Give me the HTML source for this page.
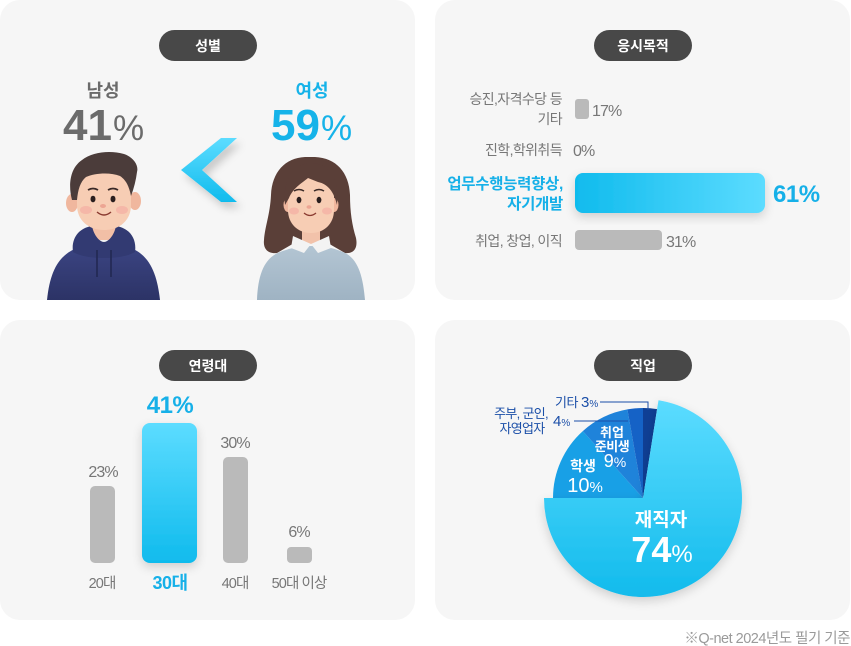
<!DOCTYPE html>
<html><head><meta charset="utf-8">
<style>
html,body{margin:0;padding:0;background:#fff;}
svg{display:block;}
text{font-family:"Liberation Sans","Noto Sans CJK KR",sans-serif;}
</style></head><body>
<svg width="851" height="646" viewBox="0 0 851 646" xmlns="http://www.w3.org/2000/svg">
<defs>
 <linearGradient id="gv" x1="0" y1="0" x2="0" y2="1"><stop offset="0" stop-color="#5cdcff"/><stop offset="1" stop-color="#10bbed"/></linearGradient>
 <linearGradient id="gh" x1="0" y1="0" x2="1" y2="0"><stop offset="0" stop-color="#10bbed"/><stop offset="1" stop-color="#5cdcff"/></linearGradient>
 <linearGradient id="gpie" gradientUnits="userSpaceOnUse" x1="0" y1="399" x2="0" y2="597"><stop offset="0" stop-color="#5cdcff"/><stop offset="1" stop-color="#12bbec"/></linearGradient>
 <linearGradient id="gch" gradientUnits="userSpaceOnUse" x1="0" y1="138" x2="0" y2="202"><stop offset="0" stop-color="#5cdcff"/><stop offset="1" stop-color="#10bbed"/></linearGradient>
 <linearGradient id="ghood" x1="0" y1="0" x2="0" y2="1"><stop offset="0" stop-color="#3b4482"/><stop offset="1" stop-color="#2c3366"/></linearGradient>
 <linearGradient id="gsw" x1="0" y1="0" x2="0" y2="1"><stop offset="0" stop-color="#b3c5d3"/><stop offset="1" stop-color="#9fb3c3"/></linearGradient>
 <filter id="sh" x="-30%" y="-30%" width="160%" height="160%"><feDropShadow dx="0" dy="4" stdDeviation="5" flood-color="#000" flood-opacity="0.16"/></filter>
 <filter id="shc" x="-40%" y="-40%" width="180%" height="180%"><feDropShadow dx="4" dy="6" stdDeviation="4" flood-color="#000" flood-opacity="0.18"/></filter>
</defs>

<!-- panels -->
<rect x="0" y="0" width="415" height="300" rx="20" fill="#f6f6f6"/>
<rect x="435" y="0" width="415" height="300" rx="20" fill="#f6f6f6"/>
<rect x="0" y="320" width="415" height="300" rx="20" fill="#f6f6f6"/>
<rect x="435" y="320" width="415" height="300" rx="20" fill="#f6f6f6"/>

<!-- pills -->
<rect x="159" y="30" width="98" height="31" rx="15.5" fill="#484848"/>
<text x="208" y="51" font-size="14" font-weight="bold" fill="#fff" text-anchor="middle">성별</text>
<rect x="594" y="30" width="98" height="31" rx="15.5" fill="#484848"/>
<text x="643" y="51" font-size="14" font-weight="bold" fill="#fff" text-anchor="middle">응시목적</text>
<rect x="159" y="350" width="98" height="31" rx="15.5" fill="#484848"/>
<text x="208" y="371" font-size="14" font-weight="bold" fill="#fff" text-anchor="middle">연령대</text>
<rect x="594" y="350" width="98" height="31" rx="15.5" fill="#484848"/>
<text x="643" y="371" font-size="14" font-weight="bold" fill="#fff" text-anchor="middle">직업</text>

<!-- ===== gender ===== -->
<text x="103" y="97" font-size="18" font-weight="bold" fill="#6b6b6b" text-anchor="middle">남성</text>
<text x="63" y="140" fill="#6b6b6b"><tspan font-size="44" font-weight="bold">41</tspan><tspan font-size="35" dx="1">%</tspan></text>
<text x="312" y="97" font-size="18" font-weight="bold" fill="#16b3e9" text-anchor="middle">여성</text>
<text x="271" y="140" fill="#16b3e9"><tspan font-size="44" font-weight="bold">59</tspan><tspan font-size="35" dx="1">%</tspan></text>

<!-- chevron -->
<polygon points="221,138 237,138 202,170 237,202 221,202 181,170" fill="url(#gch)" filter="url(#shc)"/>

<!-- man -->
<g>
 <path d="M47,300 C50,272 58,254 80,247 L128,247 C150,254 157,274 160,300 Z" fill="url(#ghood)"/>
 <path d="M92,222 L116,222 L116,244 L92,244 Z" fill="#f2bfa6"/>
 <path d="M95,240 L113,240 L108,248 L100,248 Z" fill="#f2f2f2"/>
 <path d="M73,252 C71,238 79,228 92,226 C94,236 100,242 104,242 C108,242 114,236 116,226 C129,228 137,238 135,252 C128,256 118,258 104,258 C90,258 80,256 73,252 Z" fill="#323a72"/>
 <line x1="97" y1="250" x2="97" y2="277" stroke="#222852" stroke-width="1.6"/>
 <line x1="111" y1="250" x2="111" y2="277" stroke="#222852" stroke-width="1.6"/>
 <ellipse cx="72" cy="203" rx="6" ry="9" fill="#f0b79e"/>
 <ellipse cx="135" cy="201" rx="6" ry="9" fill="#f0b79e"/>
 <path d="M77,185 C77,172 88,166 104,166 C120,166 131,172 131,185 L131,205 C131,220 120,230 104,230 C88,230 77,220 77,205 Z" fill="#f7cdb4"/>
 <ellipse cx="86" cy="210" rx="6" ry="4" fill="#f3a29c" opacity="0.5"/>
 <ellipse cx="122" cy="210" rx="6" ry="4" fill="#f3a29c" opacity="0.5"/>
 <path d="M72,200 C68,185 70,168 82,160 C92,152 110,150 124,154 C133,157 139,165 137,172 C136,180 134,188 131,196 C129,186 126,180 120,176 C110,172 95,173 86,177 C80,182 78,190 77,200 Z" fill="#4b3c3a"/>
 <path d="M88,190 Q93,187 98,190" stroke="#3a2a28" stroke-width="1.8" fill="none"/>
 <path d="M108,190 Q113,187 118,190" stroke="#3a2a28" stroke-width="1.8" fill="none"/>
 <ellipse cx="93" cy="199" rx="2.5" ry="3.3" fill="#2a1e1e"/>
 <ellipse cx="113" cy="199" rx="2.5" ry="3.3" fill="#2a1e1e"/>
 <ellipse cx="103" cy="206" rx="3" ry="2" fill="#eca593"/>
 <path d="M97,212 Q104,218 111,212" stroke="#8a3a30" stroke-width="1.4" fill="none"/>
</g>

<!-- woman -->
<g>
 <path d="M305,157 C285,158 272,172 271,195 C270,215 265,226 264,240 C263,249 268,254 277,253 L296,242 L326,242 L345,253 C354,254 358,248 356,238 C352,225 350,212 350,195 C349,172 336,158 315,157 Z" fill="#5a3f38"/>
 <path d="M257,300 C258,275 264,258 280,252 C288,249 296,247 302,246 L320,246 C328,247 336,249 343,252 C358,258 363,276 365,300 Z" fill="url(#gsw)"/>
 <path d="M302,224 L320,224 L320,244 L302,244 Z" fill="#f2c2aa"/>
 <path d="M293,236 L311,244 L304,253 L291,248 Z" fill="#f3f3f3"/>
 <path d="M329,236 L311,244 L318,253 L331,248 Z" fill="#f3f3f3"/>
 <ellipse cx="288" cy="205" rx="4.5" ry="7" fill="#f0b79e"/>
 <ellipse cx="334" cy="205" rx="4.5" ry="7" fill="#f0b79e"/>
 <path d="M288,192 C288,180 297,174 311,174 C325,174 334,180 334,192 L334,210 C334,224 324,233 311,233 C298,233 288,224 288,210 Z" fill="#f7cdb4"/>
 <ellipse cx="294" cy="211" rx="5" ry="3.5" fill="#f3a29c" opacity="0.5"/>
 <ellipse cx="327" cy="211" rx="5" ry="3.5" fill="#f3a29c" opacity="0.5"/>
 <path d="M285,205 C282,178 295,163 311,163 C328,163 340,178 337,205 C334,192 328,184 318,182 L308,178 C302,183 293,188 289,198 Z" fill="#5a3f38"/>
 <path d="M294,191 Q299,188 304,191" stroke="#3a2a28" stroke-width="1.5" fill="none"/>
 <path d="M314,191 Q319,188 324,191" stroke="#3a2a28" stroke-width="1.5" fill="none"/>
 <ellipse cx="299" cy="200" rx="2.4" ry="3.2" fill="#2a1e1e"/>
 <ellipse cx="319" cy="200" rx="2.4" ry="3.2" fill="#2a1e1e"/>
 <ellipse cx="309" cy="207" rx="2.5" ry="1.8" fill="#eca593"/>
 <path d="M304,213 Q310,218 316,213" stroke="#8a3a30" stroke-width="1.3" fill="none"/>
</g>

<!-- ===== purpose ===== -->
<g font-size="14" fill="#777" text-anchor="end" letter-spacing="-0.6">
 <text x="562" y="104">승진,자격수당 등</text>
 <text x="562" y="124">기타</text>
 <text x="562" y="155">진학,학위취득</text>
 <text x="562" y="246">취업, 창업, 이직</text>
</g>
<g font-size="15.5" font-weight="bold" fill="#16b0e8" text-anchor="end" letter-spacing="-0.3">
 <text x="563" y="189">업무수행능력향상,</text>
 <text x="563" y="209">자기개발</text>
</g>
<rect x="575" y="99" width="14" height="20" rx="3" fill="#bababa"/>
<rect x="575" y="173" width="190" height="40" rx="8" fill="url(#gh)" filter="url(#sh)"/>
<rect x="575" y="230" width="87" height="20" rx="4" fill="#bababa"/>
<g font-size="16" fill="#777" letter-spacing="-0.9">
 <text x="592" y="116">17%</text>
 <text x="573" y="156">0%</text>
 <text x="666" y="247">31%</text>
</g>
<text x="773" y="202" font-size="24" font-weight="bold" fill="#16b0e8" letter-spacing="-0.5">61%</text>

<!-- ===== age ===== -->
<rect x="90" y="486" width="25" height="77" rx="5" fill="#bababa"/>
<rect x="142" y="423" width="55" height="140" rx="8" fill="url(#gv)" filter="url(#sh)"/>
<rect x="223" y="457" width="25" height="106" rx="5" fill="#bababa"/>
<rect x="287" y="547" width="25" height="16" rx="4" fill="#bababa"/>
<g font-size="16" fill="#777" text-anchor="middle" letter-spacing="-0.9">
 <text x="103" y="477">23%</text>
 <text x="235" y="448">30%</text>
 <text x="299" y="537">6%</text>
</g>
<g font-size="14.5" fill="#777" text-anchor="middle" letter-spacing="-0.9">
 <text x="102" y="588">20대</text>
 <text x="235" y="588">40대</text>
 <text x="299" y="588">50대 이상</text>
</g>
<text x="170" y="413" font-size="24" font-weight="bold" fill="#16b0e8" text-anchor="middle" letter-spacing="-0.5">41%</text>
<text x="170" y="589" font-size="18" font-weight="bold" fill="#16b0e8" text-anchor="middle" letter-spacing="-0.5">30대</text>

<!-- ===== job pie ===== -->
<path d="M643,498 L553,498 A90,90 0 0,1 582.8,431.1 Z" fill="#18a0e6"/>
<path d="M643,498 L582.8,431.1 A90,90 0 0,1 627.4,409.4 Z" fill="#1f83da"/>
<path d="M643,498 L627.4,409.4 A90,90 0 0,1 643,408 Z" fill="#1562c6"/>
<path d="M643,498 L643,408 A90,90 0 0,1 657.1,409.1 Z" fill="#0f3f95"/>
<path d="M643,498 L658.5,400.2 A99,99 0 1,1 544,498 Z" fill="url(#gpie)" filter="url(#sh)"/>

<polyline points="600,402 648,402 648,410" fill="none" stroke="#1b4fa8" stroke-width="1"/>
<line x1="574" y1="421" x2="628" y2="421" stroke="#1b4fa8" stroke-width="1"/>
<text x="555" y="407" fill="#1b4fa8"><tspan font-size="13" letter-spacing="-0.5">기타 </tspan><tspan font-size="15">3</tspan><tspan font-size="10">%</tspan></text>
<g font-size="13" fill="#1b4fa8" text-anchor="middle" letter-spacing="-0.7">
 <text x="521" y="418">주부, 군인,</text>
 <text x="522" y="433">자영업자</text>
</g>
<text x="553" y="426" fill="#1b4fa8"><tspan font-size="15">4</tspan><tspan font-size="10">%</tspan></text>

<g fill="#fff" text-anchor="middle">
 <text x="612" y="437" font-size="13" font-weight="bold">취업</text>
 <text x="612" y="451" font-size="13" font-weight="bold" letter-spacing="-0.5">준비생</text>
 <text x="615" y="467"><tspan font-size="18">9</tspan><tspan font-size="14">%</tspan></text>
 <text x="583" y="471" font-size="14" font-weight="bold">학생</text>
 <text x="585" y="492"><tspan font-size="20">10</tspan><tspan font-size="15">%</tspan></text>
 <text x="661" y="526" font-size="19" font-weight="bold">재직자</text>
 <text x="662" y="562"><tspan font-size="36" font-weight="bold">74</tspan><tspan font-size="24">%</tspan></text>
</g>

<text x="850" y="643" font-size="14.5" fill="#9a9a9a" text-anchor="end" letter-spacing="-0.5">※Q-net 2024년도 필기 기준</text>
</svg>
</body></html>
